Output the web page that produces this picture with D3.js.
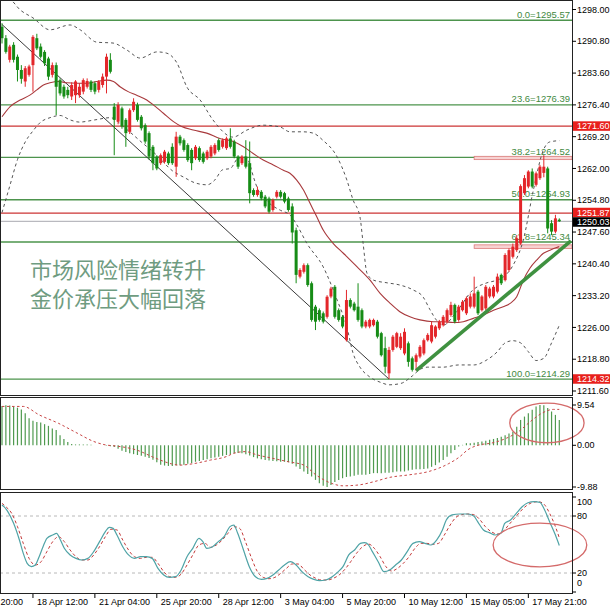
<!DOCTYPE html>
<html><head><meta charset="utf-8">
<script src="https://cdn.jsdelivr.net/npm/d3@7"></script>
<style>body{margin:0;background:#fff}svg{display:block}text{font-family:"Liberation Sans",Arial,sans-serif}</style>
</head><body><svg id="c" width="610" height="610"></svg>
<script>
// ---------- DATA ----------
const open=[1294.1,1291.5,1286.6,1290.0,1287.3,1284.3,1281.7,1283.2,1285.4,1291.5,
1289.6,1288.4,1286.9,1283.2,1285.4,1282.0,1280.5,1279.8,1278.3,1278.6,
1278.6,1279.4,1280.5,1281.7,1281.3,1279.8,1280.9,1282.8,1286.6,1276.0,
1272.6,1275.6,1273.0,1270.3,1275.2,1276.4,1273.7,1271.8,1270.0,1266.9,
1264.7,1263.2,1263.5,1265.4,1266.9,1262.4,1269.2,1268.4,1267.3,1266.2,
1264.3,1266.6,1265.4,1264.3,1264.7,1265.4,1268.4,1266.9,1266.6,1268.8,
1268.1,1264.7,1263.2,1264.7,1263.2,1257.1,1256.0,1256.7,1255.6,1255.2,
1252.6,1255.6,1256.7,1256.4,1255.2,1253.4,1248.0,1237.5,1238.6,1240.1,
1236.0,1230.7,1229.9,1229.2,1228.4,1233.0,1235.2,1229.9,1228.4,1223.1,
1232.2,1231.4,1230.7,1229.9,1226.2,1226.2,1226.5,1227.3,1224.7,1221.3,
1215.6,1220.9,1221.6,1221.3,1220.1,1222.4,1219.0,1218.2,1219.4,1220.1,
1223.1,1222.8,1223.9,1225.8,1226.5,1227.3,1228.8,1231.1,1227.7,1229.9,
1229.2,1230.7,1230.7,1234.1,1229.9,1230.3,1233.0,1233.0,1234.1,1237.9,
1236.7,1239.0,1242.0,1243.5,1245.0,1256.4,1257.9,1261.3,1258.3,1259.8,
1261.0,1262.0,1249.6,1247.7,1250.4];
const high=[1294.9,1292.2,1290.0,1290.6,1287.8,1285.4,1285.2,1285.5,1292.2,1292.5,
1290.3,1288.8,1287.3,1286.0,1286.0,1282.4,1281.0,1280.5,1281.5,1282.0,
1281.3,1282.4,1282.4,1282.0,1281.7,1282.0,1283.5,1288.0,1288.1,1276.8,
1277.0,1276.0,1273.4,1275.6,1277.9,1276.9,1274.1,1272.2,1270.4,1267.3,
1265.0,1265.4,1266.2,1265.8,1267.7,1270.3,1269.6,1268.8,1267.7,1266.6,
1267.3,1267.0,1265.8,1266.2,1267.3,1267.7,1268.8,1268.8,1269.2,1271.1,
1268.5,1265.0,1265.0,1268.4,1268.1,1257.5,1257.9,1257.1,1256.0,1255.6,
1255.2,1257.1,1257.1,1256.7,1255.6,1254.1,1248.6,1239.4,1240.5,1240.5,
1236.4,1231.1,1230.3,1229.6,1233.3,1235.2,1235.6,1230.3,1228.8,1234.5,
1232.6,1231.8,1236.0,1230.3,1227.7,1228.0,1228.0,1227.7,1225.0,1223.9,
1221.6,1224.3,1225.0,1224.7,1225.8,1222.8,1219.4,1220.1,1222.0,1223.5,
1224.7,1227.3,1226.5,1227.7,1228.8,1230.3,1231.8,1231.4,1231.1,1232.2,
1233.0,1233.7,1237.5,1234.5,1233.3,1235.6,1235.2,1235.6,1238.2,1238.2,
1242.8,1243.9,1245.0,1246.9,1258.4,1260.5,1261.6,1262.0,1261.3,1262.8,
1265.0,1262.4,1250.3,1251.5,1250.7];
const low=[1290.3,1288.0,1286.0,1286.0,1281.7,1281.2,1280.5,1282.8,1279.4,1288.8,
1286.9,1285.2,1282.0,1282.6,1274.1,1278.5,1277.8,1277.9,1277.5,1276.8,
1278.0,1278.8,1280.1,1279.3,1278.8,1279.2,1280.3,1279.0,1283.5,1265.0,
1272.0,1271.0,1266.9,1269.8,1274.8,1272.6,1270.6,1267.6,1264.0,1261.6,
1261.6,1262.8,1263.1,1262.8,1262.8,1260.1,1267.2,1265.8,1263.5,1261.6,
1263.9,1263.5,1263.1,1263.9,1264.3,1265.0,1265.8,1266.5,1266.2,1266.5,
1264.3,1261.9,1262.8,1262.0,1254.1,1255.6,1255.6,1254.8,1253.0,1251.8,
1252.2,1255.2,1255.2,1254.1,1252.2,1245.0,1236.0,1237.1,1238.2,1235.2,
1227.3,1225.4,1227.3,1226.9,1228.0,1232.6,1228.0,1227.3,1225.8,1222.8,
1230.3,1229.6,1227.3,1225.8,1225.8,1225.8,1226.2,1223.5,1219.4,1215.6,
1214.3,1220.5,1221.3,1220.9,1219.7,1217.1,1216.0,1216.2,1219.0,1219.7,
1222.8,1222.4,1223.5,1225.4,1226.2,1226.9,1228.4,1226.9,1227.3,1229.6,
1228.8,1230.3,1230.3,1228.8,1229.6,1229.9,1232.6,1232.6,1233.7,1235.6,
1236.4,1238.6,1241.6,1243.1,1244.7,1256.0,1257.5,1257.5,1257.9,1259.4,
1260.0,1247.3,1246.9,1247.3,1249.9];
const close=[1291.5,1288.4,1289.6,1286.6,1284.3,1282.3,1284.7,1285.1,1291.8,1289.2,
1287.3,1285.8,1282.8,1285.4,1280.5,1279.0,1278.3,1278.6,1280.9,1281.7,
1280.5,1282.0,1281.8,1279.8,1279.4,1281.7,1282.8,1287.3,1283.9,1273.0,
1276.4,1271.5,1270.0,1275.2,1277.1,1273.0,1271.1,1268.1,1264.7,1263.2,
1262.0,1265.0,1265.8,1263.2,1263.2,1269.2,1267.7,1266.2,1263.9,1263.2,
1266.9,1263.9,1263.5,1265.8,1266.9,1267.3,1266.2,1268.4,1268.8,1266.9,
1264.7,1262.4,1264.7,1262.4,1256.4,1256.0,1257.1,1255.2,1253.4,1252.2,
1254.9,1256.7,1255.6,1254.5,1252.6,1247.5,1237.9,1239.0,1240.1,1235.6,
1227.7,1227.3,1227.7,1227.3,1232.95,1234.8,1228.4,1227.7,1226.2,1232.2,
1230.7,1229.9,1227.7,1226.2,1227.3,1227.7,1227.7,1223.9,1219.7,1217.1,
1220.9,1223.9,1224.7,1223.9,1225.0,1218.2,1216.4,1219.7,1221.6,1223.1,
1224.3,1226.5,1226.2,1227.3,1228.4,1229.9,1231.1,1227.3,1230.7,1231.8,
1232.6,1233.0,1233.7,1229.2,1233.0,1235.2,1234.8,1235.2,1237.5,1236.0,
1242.4,1243.5,1244.3,1246.2,1258.0,1259.8,1261.3,1257.9,1260.9,1262.4,
1262.4,1248.4,1247.7,1250.7,1250.03];

// indicator lines: [bar index, value]
const maLine=[[0,1273.7],[2.1,1276.0],[4.7,1277.5],[7.2,1278.6],[9,1279.8],[10.7,1280.9],[12.4,1281.4],[14.6,1281.7],[16.7,1281.4],[19.3,1281.3],[21.9,1281.3],[24.5,1281.7],[27.1,1282.0],[28.8,1281.7],[30.5,1280.5],[32.6,1279.4],[34.8,1278.6],[37.4,1277.5],[39.1,1276.4],[41.7,1274.5],[44.3,1272.6],[46.4,1271.5],[49.4,1270.7],[52.9,1270.0],[56.3,1268.8],[59.8,1268.1],[62.4,1266.9],[64.9,1265.4],[67.5,1263.9],[70.1,1262.8],[72.7,1261.6],[74.4,1260.9],[76.1,1259.4],[77.9,1257.1],[79.6,1254.1],[81.3,1251.1],[83,1248.05],[85.6,1245.0],[88.2,1242.8],[91.7,1239.75],[95.1,1236.7],[97.7,1233.7],[100.3,1231.45],[102.8,1229.56],[105.4,1228.4],[108,1227.7],[111.4,1227.3],[114,1227.3],[116.6,1227.1],[119.2,1227.3],[121.8,1228.05],[124.4,1228.8],[127,1229.9],[129.5,1230.7],[131.3,1231.45],[133,1232.95],[134.7,1236.7],[136.4,1239.4],[138.2,1241.3],[139.9,1242.8],[141.6,1243.5],[143.3,1244.1],[144,1244.3]];
const bandUp=[[0,1300.5],[2.1,1300.2],[4.7,1297.9],[8,1296.1],[12.4,1293.4],[17.6,1294.5],[20.2,1293.4],[24.5,1290.6],[28.7,1290.4],[32.3,1288.8],[35.7,1287.0],[40.1,1288.4],[42.6,1288.1],[45.2,1285.9],[47.8,1280.4],[51.2,1277.5],[54.5,1273.0],[59.7,1269.1],[63.3,1270.7],[67.4,1271.8],[71.8,1271.4],[74.4,1270.3],[77.8,1270.3],[80.4,1270.0],[82.9,1268.4],[86.6,1264.6],[89.1,1259.4],[90.7,1254.9],[92.5,1251.0],[93.3,1245.1],[94.3,1238.3],[96,1236.7],[99.5,1236.1],[102.8,1235.6],[106.2,1234.5],[108.8,1232.9],[110.6,1230.0],[112.4,1227.5],[114,1226.5],[117,1229],[121.7,1234.5],[125.3,1236.1],[127.9,1236.7],[129.5,1237.4],[132,1240],[134.7,1245.8],[137.3,1257.1],[139.9,1266.2],[141.5,1268],[144,1268.3]];
const bandDn=[[0,1252],[2,1258],[4,1264],[6,1268],[8,1270.5],[10,1272.5],[12.4,1273.5],[15,1274],[17.6,1273],[20,1272.5],[24,1273],[28,1273.5],[32,1271],[36,1268],[40,1265],[44,1261.5],[47,1260],[50,1258.7],[53,1258.3],[55,1259.4],[57,1261.7],[59,1262],[61,1264.3],[63,1264.6],[64,1263],[65,1260],[66,1257.5],[68,1255],[70,1253.5],[72,1252.5],[74.4,1251.5],[76,1249.5],[78.8,1245],[83,1239.7],[86.6,1232.2],[89.1,1226.1],[90.7,1220.2],[92.5,1217],[95,1214.8],[98,1213.5],[100,1213],[103,1213.3],[106,1215],[108,1216.5],[110,1217],[114,1217],[118,1217.5],[122,1217.5],[125,1218.5],[128,1220.5],[130,1222.5],[132,1223],[134,1222.5],[136,1220.5],[138,1218.5],[140,1219],[142,1222.5],[144,1226.5]];

const macdHist=[9.3,9.5,9.4,9.2,8.9,8.5,7.6,6.4,5.8,5.5,
5.4,5.0,4.6,4.0,3.6,2.4,1.5,0.8,0.3,0.2,
0.2,0.2,0.2,0.1,0.0,0.0,0.0,-0.1,-0.2,-0.4,
-0.8,-1.3,-1.6,-1.9,-2.1,-2.3,-2.5,-2.7,-3.0,-3.4,
-4.0,-4.6,-4.8,-4.9,-4.9,-4.8,-4.7,-4.6,-4.4,-4.2,
-3.9,-3.7,-3.5,-3.3,-3.1,-2.9,-2.7,-2.5,-2.3,-2.1,
-1.9,-1.8,-1.9,-2.1,-2.4,-2.8,-3.1,-3.3,-3.5,-3.6,
-3.7,-3.8,-3.9,-3.9,-4.0,-4.4,-5.0,-5.6,-6.2,-6.8,
-7.4,-8.2,-9.0,-9.6,-9.88,-9.4,-8.7,-8.2,-7.8,-7.5,
-7.4,-7.2,-7.0,-7.0,-7.0,-6.8,-6.6,-6.6,-6.6,-6.5,
-6.5,-6.4,-6.2,-6.2,-6.2,-6.0,-5.8,-5.7,-5.7,-5.6,
-5.5,-5.1,-4.7,-4.1,-3.5,-2.7,-1.9,-1.1,-0.3,0.1,
0.5,0.5,0.6,0.8,0.9,1.1,1.3,1.5,1.7,2.0,
2.4,2.8,3.2,4.4,6.0,6.8,7.6,8.4,9.2,9.54,
9.5,8.8,8.0,7.2,6.0];
const macdSignal=[[0,9.2],[5.5,9.2],[9.6,7.2],[14.6,5.2],[19.6,2.8],[23.7,0.9],[26.7,0.1],[29.7,-0.2],[34.7,-1.1],[39.8,-3.1],[43.8,-4.4],[45.8,-4.7],[49.8,-4.3],[53.9,-3.5],[57.9,-2.7],[59.9,-1.9],[62.9,-1.5],[66,-2.3],[70,-3.1],[74,-3.9],[78,-4.7],[81.1,-7.0],[85.1,-9.0],[88.1,-9.6],[92.1,-9.4],[96.2,-8.6],[100.2,-7.6],[105.2,-7.0],[110.3,-6.2],[115.3,-4.4],[118.3,-2.7],[120.3,-1.1],[123.4,0.1],[126.4,0.5],[130.4,1.7],[133.4,3.2],[136.5,5.6],[139.5,7.6],[142.5,8.5],[144,8.5]];

const stochMain=[[0,91.6],[0.5,89.8],[1.5,84.6],[3,72.3],[4.5,54.7],[5.5,40.7],[6.5,30.2],[7.6,26.7],[8.6,28.4],[9.6,37.2],[10.6,47.7],[11.6,56.5],[13.1,60.0],[14.1,61.7],[15.1,54.7],[16.1,46.0],[17.6,39.0],[19.1,35.4],[20.6,33.7],[22.2,35.4],[23.7,42.5],[25.2,53.0],[26.7,63.5],[27.7,68.1],[28.7,67.0],[29.7,60.0],[31.2,47.7],[32.7,39.0],[34.2,35.4],[35.8,37.2],[37.3,37.2],[38.8,35.4],[40.3,24.9],[41.8,17.9],[43.3,15.4],[44.8,16.1],[46.3,23.2],[47.8,37.2],[49.3,46.0],[50.9,56.5],[51.9,53.0],[52.9,46.0],[54.4,47.7],[55.9,53.0],[57.4,58.2],[58.9,68.8],[59.9,70.5],[60.9,61.8],[62.4,44.2],[63.9,26.7],[65.5,16.1],[67,13.3],[68.5,14.4],[70,17.9],[71.5,23.2],[73,28.4],[74.5,31.9],[76,28.4],[77.5,21.4],[79.1,16.1],[80.6,13.3],[82.1,11.9],[83.6,12.6],[85.1,15.4],[86.6,20.4],[88.1,26.7],[89.6,39.0],[91.1,44.2],[92.6,51.2],[93.7,51.9],[94.7,49.5],[95.7,42.5],[97.2,31.9],[98.7,21.4],[100.2,23.2],[101.7,28.4],[103.2,33.7],[104.7,42.5],[106.2,51.2],[107.8,53.0],[109.3,51.2],[110.8,49.5],[112.3,54.7],[113.8,65.3],[114.8,75.8],[116.3,81.1],[118.3,82.1],[120.3,82.1],[121.9,80.0],[122.9,74.0],[124.4,65.3],[125.9,62.5],[127.4,60.0],[128.9,61.8],[129.9,72.3],[131.4,75.8],[132.9,82.8],[134.4,89.8],[135.9,94.0],[137.5,95.1],[139,94.4],[140,88.1],[141.5,74.0],[143,60.0],[144,49.0]];
const stochSignal=[[0,93.3],[1,89.8],[2.5,82.8],[4,68.8],[5.5,51.2],[7,35.4],[8.6,28.4],[10.1,31.9],[11.6,42.5],[13.1,53.0],[14.6,58.2],[16.1,53.0],[17.6,44.2],[19.1,37.2],[20.6,33.7],[22.2,33.7],[23.7,39.0],[25.2,47.7],[26.7,58.2],[28.2,66.0],[29.7,65.3],[31.2,54.7],[32.7,44.2],[34.2,37.2],[35.8,35.4],[37.3,36.5],[38.8,36.5],[40.3,30.2],[41.8,21.4],[43.3,16.1],[44.8,15.4],[46.3,18.9],[47.8,28.4],[49.3,39.0],[50.9,49.5],[52.4,51.2],[53.9,47.0],[55.4,49.5],[56.9,54.7],[58.4,61.8],[59.9,68.8],[61.4,67.0],[62.9,53.0],[64.5,35.4],[66,21.4],[67.5,15.4],[69,14.0],[70.5,15.4],[72,19.6],[73.5,24.9],[75,29.5],[76.5,29.5],[78,23.9],[79.6,17.9],[81.1,14.4],[82.6,12.6],[84.1,12.6],[85.6,14.4],[87.1,17.9],[88.6,23.9],[90.1,31.9],[91.6,40.7],[93.2,47.7],[94.7,50.5],[96.2,46.0],[97.7,37.2],[99.2,26.7],[100.7,22.1],[102.2,24.9],[103.7,30.2],[105.2,37.2],[106.7,46.0],[108.3,51.2],[109.8,51.2],[111.3,50.2],[112.8,51.2],[114.3,60.0],[115.8,70.5],[117.3,78.6],[118.8,81.4],[120.3,82.1],[121.9,81.4],[123.4,76.5],[124.9,68.8],[126.4,63.5],[127.9,61.1],[129.4,63.5],[130.9,70.5],[132.4,77.5],[133.9,84.6],[135.4,90.5],[136.9,94.0],[138.5,95.1],[140,92.6],[141.5,82.8],[143,68.8],[144,57.0]];

// chart objects
const fibLevels=[0.0,23.6,38.2,50.0,61.8,100.0];
const fibPrices=[1295.57,1276.39,1264.52,1254.93,1245.34,1214.29];
const redLevels=[1271.60,1251.87];
const bidLevel=1250.03;
const boxLevels=[[1264.0,1264.75],[1243.9,1244.7]];
const boxStart=122;
const downTrend=[[0,1294.6],[100,1214.3]];
const upTrend=[[107,1216.2],[147,1245.6]];
const priceTicks=[1298.00,1290.80,1283.60,1276.40,1269.20,1262.00,1254.80,1247.60,1240.40,1233.20,1226.00,1218.80,1211.60];
const priceTags=[[1271.60,"#e8201c"],[1251.87,"#e8201c"],[1250.03,"#000000"],[1214.32,"#e8201c"]];
const macdTicks=[9.54,0.00,-9.88];
const stochTicks=[100,80,20,0];
const stochLevels=[80,20];
const timeIdx=[-8,8,24,40,56,72,88,104,120,136];
const timeLabels=["12 Apr 20:00","18 Apr 12:00","21 Apr 04:00","25 Apr 20:00","28 Apr 12:00","3 May 04:00","5 May 20:00","10 May 12:00","15 May 05:00","17 May 21:00"];
const caption=["市场风险情绪转升","金价承压大幅回落"];
const ellipses=[{panel:"macd",i:140.8,v:5.3,ri:9.6,rv:4.7},{panel:"stoch",i:139,v:49.5,ri:12.1,rv:23}];

// ---------- DRAW ----------
const R=572;
const svg=d3.select("#c");
const x=d3.scaleLinear().domain([0,144]).range([2,559.3]);
const yM=d3.scaleLinear().domain([1211.6,1298]).range([391,9.5]);
const yD=d3.scaleLinear().domain([-9.88,9.54]).range([487,405]);
const yS=d3.scaleLinear().domain([20,80]).range([573,516]);
const panels={main:[1,396],macd:[398,490],stoch:[493,594]};
const defs=svg.append("defs");
Object.entries(panels).forEach(([k,[t,b]])=>{
  defs.append("clipPath").attr("id","cl-"+k).append("rect").attr("x",0).attr("y",t).attr("width",R).attr("height",b-t);
});
svg.append("rect").attr("width",610).attr("height",610).attr("fill","#fff");
const gMain=svg.append("g").attr("clip-path","url(#cl-main)");
const gMacd=svg.append("g").attr("clip-path","url(#cl-macd)");
const gSto=svg.append("g").attr("clip-path","url(#cl-stoch)");

// horizontal objects
gMain.selectAll(".fib").data(fibPrices).join("line")
  .attr("x1",0).attr("x2",R).attr("y1",d=>yM(d)).attr("y2",d=>yM(d))
  .attr("stroke","#4d944d").attr("stroke-width",1.4);
gMain.selectAll(".red").data(redLevels).join("line")
  .attr("x1",0).attr("x2",R).attr("y1",d=>yM(d)).attr("y2",d=>yM(d))
  .attr("stroke","#cc3535").attr("stroke-width",1.3);
gMain.append("line").attr("x1",0).attr("x2",R).attr("y1",yM(bidLevel)).attr("y2",yM(bidLevel))
  .attr("stroke","#a8a8b0").attr("stroke-width",1);
gMain.selectAll(".box").data(boxLevels).join("rect")
  .attr("x",x(boxStart)).attr("width",R-x(boxStart)).attr("y",d=>yM(d[1])).attr("height",d=>yM(d[0])-yM(d[1]))
  .attr("fill","#f7d2d2").attr("stroke","#dc7b7b").attr("stroke-width",0.8);
gMain.selectAll(".fibt").data(fibPrices).join("text")
  .attr("x",570).attr("y",d=>yM(d)-2.5).attr("text-anchor","end")
  .attr("font-size",9.5).attr("fill","#3f8a3f")
  .text((d,i)=>fibLevels[i].toFixed(1)+"="+d.toFixed(2));

// trend line
const lineM=d3.line().x(d=>x(d[0])).y(d=>yM(d[1]));
gMain.append("path").attr("d",lineM(downTrend)).attr("fill","none").attr("stroke","#3a3a3a").attr("stroke-width",1);

// indicators
const curveM=d3.line().x(d=>x(d[0])).y(d=>yM(d[1])).curve(d3.curveMonotoneX);
[bandUp,bandDn].forEach(b=>gMain.append("path").attr("d",curveM(b)).attr("fill","none").attr("stroke","#555").attr("stroke-width",1).attr("stroke-dasharray","3,3"));
gMain.append("path").attr("d",curveM(maLine)).attr("fill","none").attr("stroke","#a8393c").attr("stroke-width",1.1);

// candles
const idx=d3.range(open.length);
const col=i=>close[i]>=open[i]?"#e3262a":"#168c16";
gMain.selectAll(".wick").data(idx).join("line")
  .attr("x1",i=>x(i)).attr("x2",i=>x(i)).attr("y1",i=>yM(high[i])).attr("y2",i=>yM(low[i]))
  .attr("stroke",col).attr("stroke-width",1);
gMain.selectAll(".body").data(idx).join("rect")
  .attr("x",i=>x(i)-1.5).attr("width",3)
  .attr("y",i=>yM(Math.max(open[i],close[i])))
  .attr("height",i=>Math.max(1,Math.abs(yM(open[i])-yM(close[i]))))
  .attr("fill",col);

gMain.append("path").attr("d",lineM(upTrend)).attr("fill","none").attr("stroke","#3f9140").attr("stroke-width",3.6);

// caption
svg.selectAll(".cap").data(caption).join("text")
  .attr("x",30).attr("y",(d,i)=>278+i*29)
  .attr("font-size",22).attr("fill","#6f9c81")
  .style("font-family","'Noto Sans CJK SC',sans-serif")
  .text(d=>d);

// MACD
gMacd.selectAll(".hb").data(idx).join("line")
  .attr("x1",i=>x(i)).attr("x2",i=>x(i)).attr("y1",yD(0)).attr("y2",i=>yD(macdHist[i]))
  .attr("stroke","#4f9a4f").attr("stroke-width",1.2);
gMacd.append("path").attr("d",d3.line().x(d=>x(d[0])).y(d=>yD(d[1])).curve(d3.curveMonotoneX)(macdSignal))
  .attr("fill","none").attr("stroke","#c84545").attr("stroke-width",1).attr("stroke-dasharray","2.5,2.5");

// Stochastic
gSto.selectAll(".lv").data(stochLevels).join("line")
  .attr("x1",0).attr("x2",R).attr("y1",d=>yS(d)).attr("y2",d=>yS(d))
  .attr("stroke","#b8b8b8").attr("stroke-width",1).attr("stroke-dasharray","3,3");
const lineS=d3.line().x(d=>x(d[0])).y(d=>yS(d[1])).curve(d3.curveMonotoneX);
gSto.append("path").attr("d",lineS(stochSignal)).attr("fill","none").attr("stroke","#c43a3a").attr("stroke-width",1).attr("stroke-dasharray","3,2.5");
gSto.append("path").attr("d",lineS(stochMain)).attr("fill","none").attr("stroke","#4fa3a6").attr("stroke-width",1.2);

// ellipses
ellipses.forEach(e=>{
  const ys=e.panel==="macd"?yD:yS;
  svg.append("ellipse").attr("cx",x(e.i)).attr("cy",ys(e.v))
    .attr("rx",x(e.i+e.ri)-x(e.i)).attr("ry",ys(e.v-e.rv)-ys(e.v))
    .attr("fill","none").attr("stroke","#d46a6a").attr("stroke-width",1.3);
});

// frames
Object.values(panels).forEach(([t,b])=>{
  svg.append("rect").attr("x",0.5).attr("y",t-0.5).attr("width",R).attr("height",b-t)
    .attr("fill","none").attr("stroke","#222").attr("stroke-width",1);
});

// right axes
const fs=9;
const ax=svg.append("g");
function rightTicks(vals,scale,fmt,shift){
  vals.forEach(v=>{
    const yy=scale(v);
    ax.append("line").attr("x1",R).attr("x2",R+4).attr("y1",yy).attr("y2",yy).attr("stroke","#000");
    ax.append("text").attr("x",R+5).attr("y",yy+(shift?shift(v):0)).attr("dy","0.35em").attr("font-size",fs).attr("fill","#000").text(fmt(v));
  });
}
rightTicks(priceTicks,yM,v=>v.toFixed(2));
rightTicks(macdTicks,yD,v=>v.toFixed(2));
rightTicks(stochTicks,yS,v=>String(v),v=>v===100?5:(v===0?-9:0));
// price tags; tags that would overlap are split apart around their midpoint
const tagH=9.5;
const tags=priceTags.map(([v,c])=>({v,c,y:yM(v)})).sort((a,b)=>a.y-b.y);
for(let k=1;k<tags.length;k++){
  if(tags[k].y-tags[k-1].y<tagH){
    const mid=(tags[k].y+tags[k-1].y)/2;
    tags[k-1].y=mid-tagH/2; tags[k].y=mid+tagH/2;
  }
}
tags.forEach(t=>{
  ax.append("rect").attr("x",R+1).attr("y",t.y-tagH/2).attr("width",610-R).attr("height",tagH).attr("fill",t.c);
  ax.append("text").attr("x",R+5).attr("y",t.y).attr("dy","0.35em").attr("font-size",fs).attr("fill","#fff").text(t.v.toFixed(2));
});

// time axis (a label that runs off the left edge keeps only its visible time part)
timeIdx.forEach((t,k)=>{
  const xx=x(t);
  ax.append("line").attr("x1",xx).attr("x2",xx).attr("y1",594).attr("y2",598).attr("stroke","#000");
  const txt=ax.append("text").attr("x",xx+4).attr("y",605).attr("font-size",9).attr("fill","#000").text(timeLabels[k]);
  if(xx<0){
    const full=txt.node().getComputedTextLength();
    txt.attr("text-anchor","end").attr("x",xx+4+full-3).text(timeLabels[k].split(" ").pop());
  }
});
</script></body></html>
